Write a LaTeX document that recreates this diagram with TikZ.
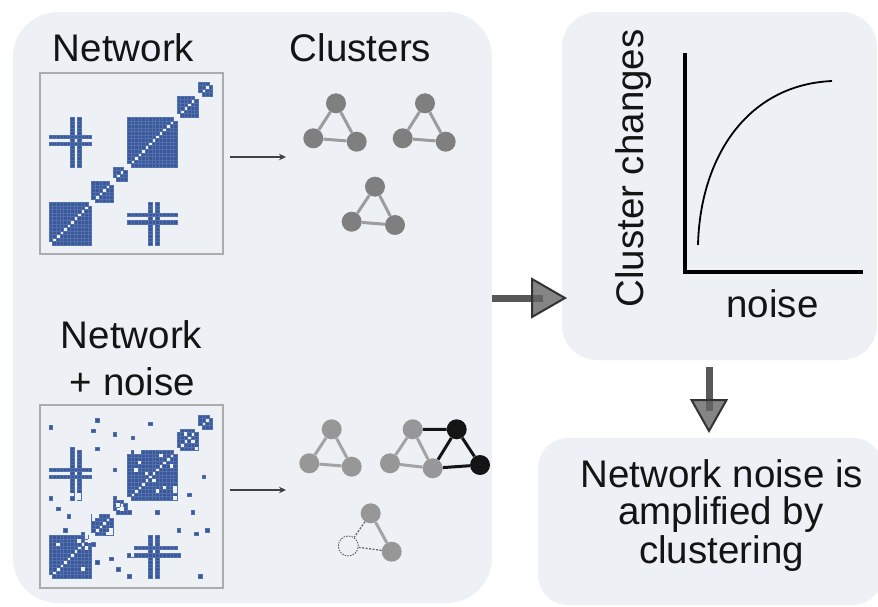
\documentclass[tikz,border=0pt]{standalone}
\usepackage{fontspec}
\setmainfont{Liberation Sans}
\usetikzlibrary{arrows.meta,calc}
\definecolor{panelbg}{HTML}{EDF0F5}
\definecolor{mblue}{HTML}{3A5899}
\definecolor{mgrid}{HTML}{5372AD}
\definecolor{ngray}{HTML}{7F7F7F}
\definecolor{egray}{HTML}{9C9C9C}
\definecolor{ngrayb}{HTML}{979797}
\definecolor{egrayb}{HTML}{A3A3A3}
\definecolor{txt}{HTML}{141414}
\definecolor{shaftc}{HTML}{585858}
\definecolor{headc}{HTML}{666666}
\definecolor{headd}{HTML}{333333}
\newcommand\cs{3.55}
\newcommand\mcell[2]{\fill[cellst] ({(#1)*\cs},{-((#2)+1)*\cs}) rectangle ++(\cs,\cs);}
\newcommand\msym[2]{\mcell{#1}{#2}\mcell{#2}{#1}}
\newcommand\mhole[2]{\fill[panelbg] ({(#1)*\cs},{-((#2)+1)*\cs}) rectangle ++(\cs,\cs);\fill[panelbg] ({(#2)*\cs},{-((#1)+1)*\cs}) rectangle ++(\cs,\cs);}
\newcommand\mblock[2]{\foreach \pa in {#1,...,#2}{\foreach \qa in {#1,...,#2}{\ifnum\pa=\qa\relax\else\mcell{\pa}{\qa}\fi}}}
\newcommand\mhash{\foreach \ra in {28,30}{\foreach \ca in {0,...,11}{\msym{\ca}{\ra}}}\foreach \ca in {6,8}{\foreach \ra in {22,...,35}{\msym{\ca}{\ra}}}}
\newcommand\cleanmatrix{\mblock{0}{11}\mblock{12}{17}\mblock{18}{21}\mblock{22}{35}\mblock{36}{41}\mblock{42}{45}\mhash}
\tikzset{
  cellst/.style={fill=mblue, draw=mgrid, line width=0.3pt},
  panelbox/.style={fill=panelbg, draw=none, inner sep=0pt, rectangle},
  mframe/.style={draw=gray!65, line width=1.2pt, inner sep=0pt, rectangle},
  lbl/.style={font=\fontsize{38.5}{40}\selectfont, text=txt, inner sep=0pt, anchor=base},
  cnode/.style={circle, fill=ngray, minimum size=20pt, inner sep=0pt},
  cedge/.style={draw=egray, line width=3pt},
  cnodeb/.style={circle, fill=ngrayb, minimum size=20pt, inner sep=0pt},
  cedgeb/.style={draw=egrayb, line width=3pt},
  knode/.style={circle, fill=black!92, minimum size=20pt, inner sep=0pt},
  kedge/.style={draw=black!92, line width=3pt},
  gonenode/.style={circle, minimum size=20pt, inner sep=0pt, draw=black!65, line width=0.9pt, dash pattern=on 1.5pt off 1.2pt},
  goneedge/.style={draw=black!60, line width=1.3pt, dash pattern=on 2pt off 1.5pt},
  smallarrow/.style={draw=black!75, line width=1.4pt, -{Stealth[length=7pt,width=6.5pt]}},
  bigshaft/.style={draw=shaftc, line width=7pt},
  bighead/.style={fill=headc, fill opacity=0.8, draw=headd, line width=2pt, line join=miter},
  axisline/.style={draw=black, line width=4pt, line join=miter},
}
\begin{document}
\begin{tikzpicture}[x=1pt,y=-1pt]
\useasboundingbox (0,0) rectangle (878,607);
% panels
\node[panelbox, minimum width=479pt, minimum height=591pt, rounded corners=45pt] (leftpanel) at (252.5,307.5) {};
\node[panelbox, minimum width=315pt, minimum height=348pt, rounded corners=35pt] (plotpanel) at (719.5,186) {};
\node[panelbox, minimum width=345pt, minimum height=167pt, rounded corners=30pt] (concpanel) at (710.5,521.5) {};
% titles
\node[lbl] (tnet) at (123.5,62) {Network};
\node[lbl] (tclu) at (360.5,62) {Clusters};
\node[lbl] (tnet2) at (131.5,348) {Network};
\node[lbl] (tnoise) at (132.5,395) {+ noise};
% matrix frames
\node[mframe, minimum width=183pt, minimum height=181pt] (mat1) at (131.5,163.5) {};
\node[mframe, minimum width=183pt, minimum height=183pt] (mat2) at (131.5,496.5) {};
% clean matrix
\begin{scope}[shift={(49,245)}]
\cleanmatrix
\end{scope}
% noisy matrix
\begin{scope}[shift={(49,578)}]
\cleanmatrix
\mhole{12}{17}\mhole{12}{16}\mhole{13}{17}
\mhole{19}{20}
\mhole{36}{41}\mhole{38}{40}
\mhole{2}{9}\mhole{8}{10}\mhole{10}{11}
\mhole{22}{35}\mhole{24}{35}\mhole{25}{35}\mhole{31}{34}\mhole{27}{29}\mhole{25}{32}\mhole{24}{30}
\mhole{6}{23}\mhole{8}{22}\mhole{8}{23}
\foreach \pa/\qa in {18/22,6/36,0/42,13/44,28/43,12/41,18/40,23/39,13/36,18/30,0/22,2/19,5/17,4/13,9/12}{\msym{\pa}{\qa}}
\end{scope}
% small arrows
\coordinate (a1s) at (230,157);
\coordinate (a1e) at (286,157);
\coordinate (a2s) at (230,490);
\coordinate (a2e) at (286,490);
\draw[smallarrow] (a1s) -- (a1e);
\draw[smallarrow] (a2s) -- (a2e);
% clean clusters
\node[cnode] (c1t) at (336,103.3) {};
\node[cnode] (c1l) at (313.3,138.3) {};
\node[cnode] (c1r) at (356.7,141.7) {};
\node[cnode] (c2t) at (425,103.3) {};
\node[cnode] (c2l) at (402.7,138.3) {};
\node[cnode] (c2r) at (445.7,141.7) {};
\node[cnode] (c3t) at (375,186.7) {};
\node[cnode] (c3l) at (351.7,221.7) {};
\node[cnode] (c3r) at (395,225) {};
\draw[cedge] (c1t) -- (c1l) (c1l) -- (c1r) (c1r) -- (c1t);
\draw[cedge] (c2t) -- (c2l) (c2l) -- (c2r) (c2r) -- (c2t);
\draw[cedge] (c3t) -- (c3l) (c3l) -- (c3r) (c3r) -- (c3t);
% noisy clusters
\node[cnodeb] (n1t) at (331.7,429.3) {};
\node[cnodeb] (n1l) at (309.3,463.3) {};
\node[cnodeb] (n1r) at (351.7,466.7) {};
\node[cnodeb] (n2t) at (412.7,429.3) {};
\node[cnodeb] (n2l) at (390,463.3) {};
\node[cnodeb] (n2r) at (432.7,468.3) {};
\node[knode] (k2t) at (456.7,429.3) {};
\node[knode] (k2r) at (480,465) {};
\node[cnodeb] (n3t) at (370.7,513.3) {};
\node[gonenode] (n3l) at (348.3,546) {};
\node[cnodeb] (n3r) at (391.7,551.7) {};
\draw[cedgeb] (n1t) -- (n1l) (n1l) -- (n1r) (n1r) -- (n1t);
\draw[cedgeb] (n2t) -- (n2l) (n2l) -- (n2r) (n2r) -- (n2t);
\draw[kedge] (n2t) -- (k2t) (k2t) -- (n2r) (k2t) -- (k2r) (n2r) -- (k2r);
\draw[cedgeb] (n3t) -- (n3r);
\draw[goneedge] (n3t) -- (n3l) (n3l) -- (n3r);
% big arrows
\coordinate (r1s) at (492,298);
\coordinate (r1e) at (565,298);
\draw[bigshaft] (r1s) -- ($(r1e)+(-22,0)$);
\draw[bighead] ($(r1e)+(-33,-19)$) -- (r1e) -- ($(r1e)+(-33,19)$) -- cycle;
\coordinate (d1s) at (709,367);
\coordinate (d1e) at (709,431);
\draw[bigshaft] (d1s) -- ($(d1e)+(0,-20)$);
\draw[bighead] ($(d1e)+(-17.5,-31)$) -- (d1e) -- ($(d1e)+(17.5,-31)$) -- cycle;
% plot
\coordinate (ay) at (685,53);
\coordinate (ao) at (685,272);
\coordinate (ax) at (863,272);
\draw[axisline] (ay) -- (ao) -- (ax);
\draw[line width=1.8pt, draw=black] (698,245) .. controls (700,160) and (745,85) .. (832,81);
\node[lbl, rotate=90] (ylab) at (643,168.5) {Cluster changes};
\node[lbl] (xlab) at (772.5,317) {noise};
% conclusion
\node[lbl] (cl1) at (722,487) {Network noise is};
\node[lbl] (cl2) at (721,524) {amplified by};
\node[lbl] (cl3) at (721.5,563) {clustering};
\end{tikzpicture}
\end{document}
